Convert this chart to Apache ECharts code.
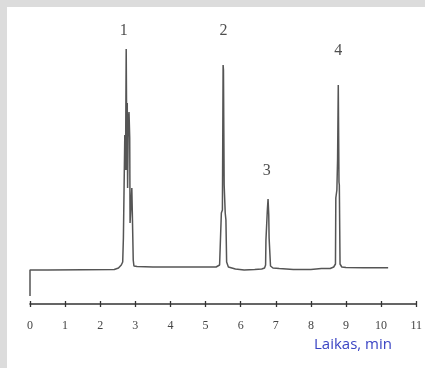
<!DOCTYPE html>
<html>
<head>
<meta charset="utf-8">
<script src="https://cdn.jsdelivr.net/npm/echarts@6/dist/echarts.min.js"></script>
<style>
html,body{margin:0;padding:0;background:#dcdcdc;width:425px;height:368px;overflow:hidden;}
#c{position:absolute;left:7px;top:7px;width:418px;height:361px;background:#fff;}
</style>
</head>
<body>
<div id="c"></div>
<script>
// Time axis ticks (min)
const xTicks = [0,1,2,3,4,5,6,7,8,9,10,11];
// Chromatogram trace: retention time (min) and detector signal (arbitrary units)
const traceTime = [0,0,0.5,1.5,2.40,2.52,2.60,2.64,2.66,2.68,2.70,2.72,2.74,2.76,2.77,2.78,2.80,2.82,2.84,2.85,2.88,2.90,2.92,2.94,2.96,3.05,3.5,4.2,5.0,5.30,5.40,5.44,5.45,5.48,5.49,5.50,5.51,5.52,5.53,5.56,5.58,5.60,5.65,5.75,5.85,6.1,6.4,6.60,6.68,6.71,6.72,6.75,6.76,6.78,6.80,6.81,6.83,6.85,6.92,7.1,7.5,8.0,8.3,8.55,8.65,8.70,8.71,8.74,8.76,8.78,8.80,8.81,8.83,8.88,9.0,9.5,10.2];
const traceSignal = [-26,0,0,0.3,0.5,2,5,8,32,32,135,100,221,100,167,82,150,158,132,47,47,82,47,10,4,3.5,3,3,3,3,5,7,57,60,130,205,200,140,85,57,50,8,3,2,1,0,0.5,1,2,5,30,32,60,71,55,32,30,4,2,1.5,0.5,0.5,1.5,1.5,3,6,72,80,110,185,88,85,6,3,2.5,2.3,2.3];
// Peak numbers and where their labels sit (min, signal)
const peakNames = ['1','2','3','4'];
const peakLabelTime = [2.67,5.51,6.74,8.78];
const peakLabelSignal = [239,239,99,219];

const chart = echarts.init(document.getElementById('c'));
const line = traceTime.map((t,i)=>[t,traceSignal[i]]);
const labels = peakNames.map((n,i)=>({name:n,value:[peakLabelTime[i],peakLabelSignal[i]]}));
const option = {
  animation:false,
  backgroundColor:'#fff',
  grid:{left:23,right:8,top:3,bottom:64},
  xAxis:[{
    type:'value',min:0,max:11,interval:1,position:'bottom',
    axisLine:{onZero:false,lineStyle:{color:'#333',width:1.6}},
    axisTick:{show:true,length:3,lineStyle:{color:'#333',width:1.3}},
    axisLabel:{margin:16,fontFamily:'Liberation Serif',fontSize:12,color:'#444',formatter:(v)=>xTicks.includes(v)?String(v):''},
    splitLine:{show:false}
  },{
    type:'value',min:0,max:11,interval:1,position:'bottom',
    axisLine:{show:false,onZero:false},
    axisTick:{show:true,inside:true,length:3,lineStyle:{color:'#333',width:1.3}},
    axisLabel:{show:false},splitLine:{show:false}
  }],
  yAxis:{type:'value',min:-34,max:260,show:false,splitLine:{show:false}},
  graphic:[{type:'text',x:346,y:338,style:{text:'Laikas, min',fill:'#3a44c4',font:'15px "Open Sans", sans-serif',textAlign:'center',textVerticalAlign:'middle'}}],
  series:[{
    type:'line',data:line,showSymbol:false,symbol:'none',
    lineStyle:{color:'#555',width:1.5},clip:false
  },{
    type:'scatter',data:labels,symbolSize:0,clip:false,
    label:{show:true,position:'inside',formatter:'{b}',fontFamily:'Liberation Serif',fontSize:16,color:'#222'}
  }]
};
chart.setOption(option);
</script>
</body>
</html>
